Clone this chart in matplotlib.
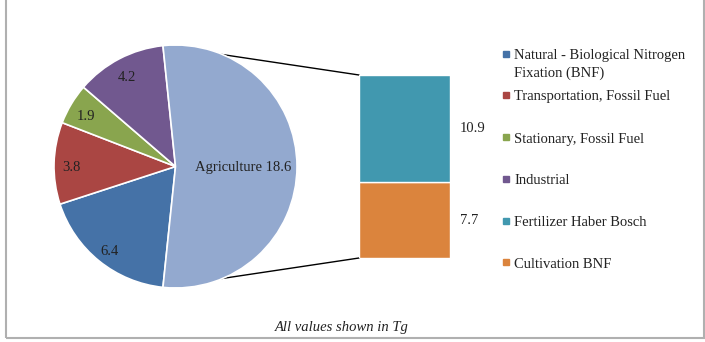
import numpy as np
import matplotlib
matplotlib.use('Agg')
import matplotlib.pyplot as plt
from matplotlib.patches import ConnectionPatch, Rectangle

plt.rcParams['font.family'] = ['Liberation Serif', 'DejaVu Serif']

# pie data (clockwise order, Excel style)
pie_labels = ['Natural - Biological Nitrogen\nFixation (BNF)', 'Transportation, Fossil Fuel',
              'Stationary, Fossil Fuel', 'Industrial', 'Agriculture']
pie_values = [6.4, 3.8, 1.9, 4.2, 18.6]
pie_colors = ['#4572a7', '#aa4643', '#89a54e', '#71588f', '#93a9cf']

# breakdown of agriculture
bar_labels = ['Cultivation BNF', 'Fertilizer Haber Bosch']
bar_values = [7.7, 10.9]
bar_colors = ['#db843d', '#4198af']

W, H = 705, 342
fig = plt.figure(figsize=(W / 100, H / 100), dpi=100)
txt_col = '#222222'

# outer frame
fig.patches.append(Rectangle((6 / W, 4 / H), 698 / W, 1.2, transform=fig.transFigure,
                             fill=False, edgecolor='#b0b0b0', linewidth=1.5))

# pie
cx, cy, r = 175.5, 166.5, 121.5
ax_pie = fig.add_axes([(cx - r) / W, (H - cy - r) / H, 2 * r / W, 2 * r / H])
agri_deg = 360 * pie_values[-1] / sum(pie_values)
wedges, _ = ax_pie.pie(pie_values, colors=pie_colors, startangle=-agri_deg / 2,
                       counterclock=False, radius=1,
                       wedgeprops=dict(edgecolor='white', linewidth=1.2))
ax_pie.set_xlim(-1, 1)
ax_pie.set_ylim(-1, 1)
ax_pie.axis('off')

for i, w in enumerate(wedges):
    th = np.deg2rad((w.theta1 + w.theta2) / 2)
    if i == len(wedges) - 1:
        ax_pie.text(0.56 * np.cos(th), 0.56 * np.sin(th) - 0.01, f'Agriculture {pie_values[i]}',
                    ha='center', va='center', fontsize=10.5, color=txt_col)
    else:
        ax_pie.text(0.86 * np.cos(th), 0.86 * np.sin(th) - 0.03, f'{pie_values[i]}',
                    ha='center', va='center', fontsize=10.5, color=txt_col)

# stacked bar
bx0, bx1, by0, by1 = 359, 450, 75, 258
ax_bar = fig.add_axes([bx0 / W, (H - by1) / H, (bx1 - bx0) / W, (by1 - by0) / H])
bottom = 0
for val, col in zip(bar_values, bar_colors):
    ax_bar.bar(0, val, bottom=bottom, width=1, color=col, edgecolor='white', linewidth=1)
    ax_bar.text(0.61, bottom + val / 2, f'{val}', ha='left', va='center', fontsize=10.5,
                color=txt_col, clip_on=False)
    bottom += val
ax_bar.set_xlim(-0.5, 0.5)
ax_bar.set_ylim(0, sum(bar_values))
ax_bar.axis('off')

# connecting lines
a = np.deg2rad(agri_deg / 2)
for sgn, yb in [(1, 1), (-1, 0)]:
    con = ConnectionPatch(xyA=(np.cos(a), sgn * np.sin(a)), coordsA=ax_pie.transData,
                          xyB=(0, yb), coordsB=ax_bar.transAxes,
                          color='black', linewidth=1)
    con.set_zorder(0)
    ax_pie.add_artist(con)

# legend
leg_items = [(pie_labels[0], pie_colors[0], 56),
             (pie_labels[1], pie_colors[1], 97),
             (pie_labels[2], pie_colors[2], 139),
             (pie_labels[3], pie_colors[3], 181),
             (bar_labels[1], bar_colors[1], 223),
             (bar_labels[0], bar_colors[0], 264)]
for lab, col, y in leg_items:
    fig.patches.append(Rectangle((503 / W, (H - y - 1) / H), 6 / W, 6 / H,
                                 transform=fig.transFigure, color=col))
    for k, line in enumerate(lab.split('\n')):
        fig.text(514 / W, (H - y - 17 * k) / H, line, ha='left', va='center',
                 fontsize=10.5, color=txt_col)

fig.text(342 / W, (H - 327) / H, 'All values shown in Tg', ha='center', va='center',
         fontsize=10.5, style='italic', color=txt_col)

fig.savefig('out.png', dpi=100)
